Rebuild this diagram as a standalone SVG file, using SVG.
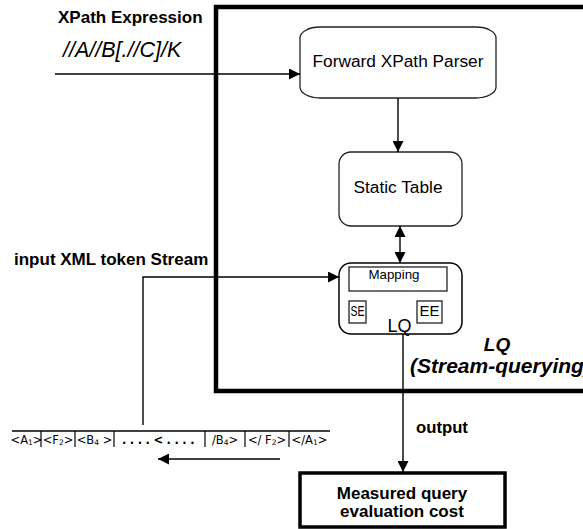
<svg xmlns="http://www.w3.org/2000/svg" width="583" height="529" viewBox="0 0 583 529">
<style>
.t{font-family:"Liberation Sans",Arial,sans-serif;fill:#000}
.b{font-weight:bold}
.i{font-style:italic}
.ln{stroke:#000;stroke-width:1.4;fill:none}
.box{fill:#fff;stroke:#222;stroke-width:1.3}
.tok{font-family:"DejaVu Sans","Liberation Sans",sans-serif;font-size:11.5px;fill:#000}
</style>
<defs>
<marker id="ah" markerUnits="userSpaceOnUse" markerWidth="11" markerHeight="11" refX="11" refY="5.5" orient="auto-start-reverse">
<path d="M0,0 L11,5.5 L0,11 z" fill="#000"/>
</marker>
</defs>
<rect x="0" y="0" width="583" height="529" fill="#fff"/>

<g id="frame">
<rect x="216" y="7" width="420" height="384" fill="none" stroke="#000" stroke-width="4.5"/>
<text class="t b i" x="497" y="351" font-size="19" text-anchor="middle">LQ</text>
<text class="t b i" x="410" y="373" font-size="21">(Stream-querying)</text>
</g>

<g id="labels">
<text class="t b" x="58" y="23" font-size="17">XPath Expression</text>
<text class="t i" x="63" y="57" font-size="21.5">//A//B[.//C]/K</text>
<text class="t b" x="14" y="265" font-size="17">input XML token Stream</text>
<text class="t b" x="416" y="433" font-size="16.7">output</text>
</g>

<g id="parser">
<rect class="box" x="300" y="27" width="196" height="71" rx="20" ry="11"/>
<text class="t" x="398" y="67" font-size="17.3" text-anchor="middle">Forward XPath Parser</text>
</g>

<g id="static-table">
<rect class="box" x="339" y="152" width="123" height="74" rx="12" ry="12"/>
<text class="t" x="398" y="193" font-size="17.3" text-anchor="middle">Static Table</text>
</g>

<g id="lq">
<rect x="339" y="263" width="123" height="71" rx="12" ry="12" fill="#fff" stroke="#000" stroke-width="1.5"/>
<rect x="349" y="267" width="98" height="24" fill="#fff" stroke="#222" stroke-width="1.3"/>
<text class="t" x="394" y="279" font-size="13.3" text-anchor="middle">Mapping</text>
<rect x="349" y="301" width="17" height="22" fill="#fff" stroke="#222" stroke-width="1.3"/>
<text class="t" x="357.5" y="316" font-size="14.5" text-anchor="middle" textLength="14" lengthAdjust="spacingAndGlyphs">SE</text>
<rect x="417" y="301" width="25" height="22" fill="#fff" stroke="#222" stroke-width="1.3"/>
<text class="t" x="429.5" y="316" font-size="15" text-anchor="middle">EE</text>
<text class="t" x="399.5" y="332" font-size="18" text-anchor="middle">LQ</text>
</g>

<g id="result">
<rect x="300" y="473" width="205" height="54" fill="#fff" stroke="#000" stroke-width="3.5"/>
<text class="t b" x="402" y="499" font-size="17" text-anchor="middle">Measured query</text>
<text class="t b" x="402" y="517" font-size="17" text-anchor="middle">evaluation cost</text>
</g>

<g id="stream">
<line x1="12" y1="431" x2="330" y2="431" stroke="#000" stroke-width="1.3"/>
<g stroke="#000" stroke-width="1.2">
<line x1="41" y1="431" x2="41" y2="447"/>
<line x1="75" y1="431" x2="75" y2="447"/>
<line x1="114" y1="431" x2="114" y2="447"/>
<line x1="205" y1="431" x2="205" y2="447"/>
<line x1="245" y1="431" x2="245" y2="447"/>
<line x1="289" y1="431" x2="289" y2="447"/>
</g>
<text class="tok" x="26.5" y="444" text-anchor="middle">&lt;A<tspan font-size="7.5" dy="1">1</tspan><tspan dy="-1">&gt;</tspan></text>
<text class="tok" x="58" y="444" text-anchor="middle">&lt;F<tspan font-size="7.5" dy="1">2</tspan><tspan dy="-1">&gt;</tspan></text>
<text class="tok" x="94.5" y="444" text-anchor="middle">&lt;B<tspan font-size="7.5" dy="1">4</tspan><tspan dy="-1"> &gt;</tspan></text>
<text class="tok" x="160" y="444" text-anchor="middle" font-weight="bold" letter-spacing="3.5">....&lt;....</text>
<text class="tok" x="225" y="444" text-anchor="middle">/B<tspan font-size="7.5" dy="1">4</tspan><tspan dy="-1">&gt;</tspan></text>
<text class="tok" x="267" y="444" text-anchor="middle">&lt;/ F<tspan font-size="7.5" dy="1">2</tspan><tspan dy="-1">&gt;</tspan></text>
<text class="tok" x="309.5" y="444" text-anchor="middle">&lt;/A<tspan font-size="7.5" dy="1">1</tspan><tspan dy="-1">&gt;</tspan></text>
</g>

<g id="connectors">
<line class="ln" x1="55" y1="74" x2="300" y2="74" marker-end="url(#ah)"/>
<line class="ln" x1="398" y1="98" x2="398" y2="152" marker-end="url(#ah)"/>
<line class="ln" x1="400" y1="226" x2="400" y2="263" marker-start="url(#ah)" marker-end="url(#ah)"/>
<polyline class="ln" points="143,425 143,277 339,277" marker-end="url(#ah)"/>
<line class="ln" x1="403" y1="334" x2="403" y2="472" marker-end="url(#ah)"/>
<line class="ln" x1="280" y1="459" x2="158" y2="459" marker-end="url(#ah)"/>
</g>
</svg>
